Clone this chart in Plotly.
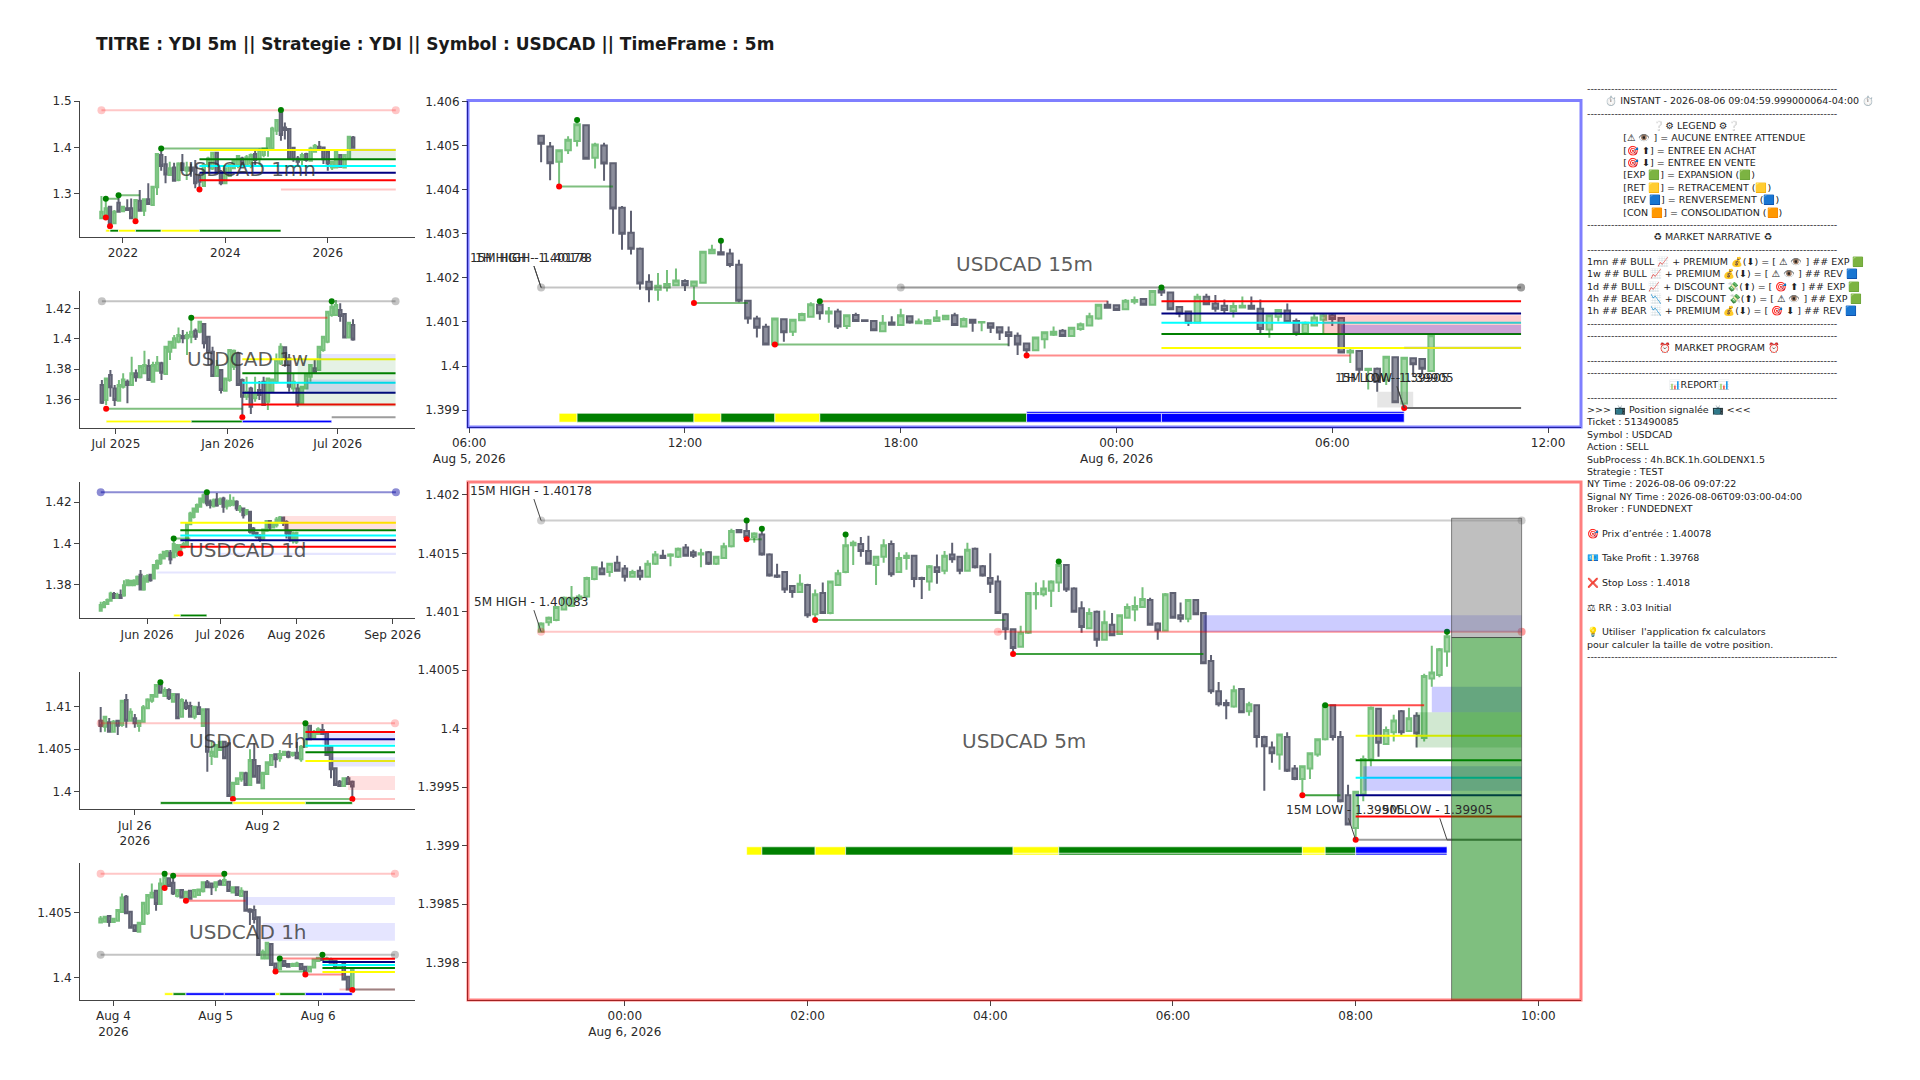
import pandas as pd
import plotly.graph_objects as go

# page size (the browser leaves an 8px body margin)
OFF = 8
W = 1904
H = 1064
FONT = "DejaVu Sans"

TITLE = "TITRE : YDI 5m || Strategie : YDI || Symbol : USDCAD || TimeFrame : 5m"

# ---- candles : open, high, low, close ----
OHLC_1MN = [
    (1.2468,1.2950,1.2461,1.2612),(1.2489,1.2892,1.2489,1.2684),(1.2720,1.2734,1.2288,1.2346),(1.2360,1.2648,1.2346,1.2612),
    (1.2806,1.2964,1.2605,1.2612),(1.2619,1.2734,1.2605,1.2720),(1.2684,1.2878,1.2633,1.2648),(1.2684,1.2899,1.2446,1.2468),
    (1.2468,1.2878,1.2403,1.2863),(1.2849,1.3079,1.2626,1.2633),(1.2633,1.2892,1.2518,1.2878),(1.2878,1.3223,1.2763,1.2777),
    (1.2756,1.3165,1.2741,1.3151),(1.3137,1.3870,1.2971,1.3856),(1.3834,1.3978,1.3496,1.3597),(1.3633,1.3813,1.3223,1.3417),
    (1.3403,1.3690,1.3388,1.3547),(1.3568,1.3669,1.3266,1.3280),(1.3295,1.3676,1.3266,1.3654),(1.3654,1.3856,1.3496,1.3511),
    (1.3496,1.3690,1.3295,1.3568),(1.3568,1.3654,1.3367,1.3496),(1.3568,1.3726,1.3115,1.3223),(1.3367,1.3439,1.3093,1.3259),
    (1.3165,1.3654,1.3151,1.3618),(1.3597,1.3798,1.3568,1.3762),(1.3546,1.3899,1.3511,1.3884),(1.3884,1.3899,1.3439,1.3453),
    (1.3475,1.3511,1.3180,1.3223),(1.3223,1.3568,1.3209,1.3547),(1.3381,1.3640,1.3367,1.3618),(1.3547,1.3741,1.3525,1.3726),
    (1.3618,1.3834,1.3547,1.3813),(1.3762,1.3798,1.3547,1.3568),(1.3597,1.3834,1.3582,1.3784),(1.3654,1.3870,1.3547,1.3834),
    (1.3856,1.3928,1.3582,1.3726),(1.3762,1.3978,1.3618,1.3942),(1.3834,1.3992,1.3784,1.3978),(1.3956,1.4215,1.3798,1.4194),
    (1.3978,1.4445,1.3956,1.4409),(1.4359,1.4603,1.4265,1.4589),(1.4790,1.4805,1.4143,1.4265),(1.4431,1.4539,1.4172,1.4373),
    (1.4395,1.4409,1.3741,1.3762),(1.3992,1.4014,1.3690,1.3741),(1.3762,1.3813,1.3597,1.3690),(1.3726,1.3884,1.3597,1.3834),
    (1.3856,1.3884,1.3690,1.3726),(1.3712,1.4014,1.3690,1.3978),(1.3906,1.4071,1.3884,1.4035),(1.4014,1.4136,1.3942,1.3956),
    (1.3999,1.4014,1.3640,1.3741),(1.3906,1.3942,1.3496,1.3654),(1.3568,1.3712,1.3511,1.3690),(1.3568,1.3956,1.3547,1.3928),
    (1.3834,1.3856,1.3568,1.3582),(1.3568,1.3856,1.3554,1.3834),(1.3762,1.4244,1.3741,1.4230),(1.4215,1.4244,1.3978,1.3992),
]
OHLC_1W = [
    (1.3696,1.3729,1.3571,1.3580),(1.3598,1.3744,1.3565,1.3740),(1.3762,1.3795,1.3620,1.3681),(1.3674,1.3696,1.3558,1.3598),
    (1.3593,1.3729,1.3587,1.3696),(1.3685,1.3773,1.3674,1.3733),(1.3718,1.3733,1.3576,1.3696),(1.3696,1.3882,1.3692,1.3773),
    (1.3773,1.3799,1.3718,1.3747),(1.3747,1.3828,1.3740,1.3821),(1.3773,1.3922,1.3768,1.3828),(1.3821,1.3865,1.3725,1.3729),
    (1.3718,1.3849,1.3714,1.3828),(1.3790,1.3887,1.3784,1.3843),(1.3839,1.3849,1.3729,1.3777),(1.3768,1.3952,1.3762,1.3948),
    (1.3915,1.3987,1.3860,1.3981),(1.3941,1.4025,1.3937,1.4003),(1.3981,1.4075,1.3970,1.4025),(1.4018,1.4058,1.3970,1.4003),
    (1.4003,1.4047,1.3893,1.4025),(1.4014,1.4139,1.3970,1.4047),(1.4053,1.4068,1.3992,1.4014),(1.4047,1.4119,1.4036,1.4112),
    (1.4097,1.4101,1.3937,1.3970),(1.4014,1.4018,1.3828,1.3915),(1.3915,1.3948,1.3751,1.3755),(1.3755,1.3860,1.3751,1.3817),
    (1.3795,1.3799,1.3641,1.3663),(1.3659,1.3744,1.3652,1.3740),(1.3729,1.3930,1.3718,1.3926),(1.3817,1.3930,1.3795,1.3922),
    (1.3904,1.3915,1.3692,1.3696),(1.3729,1.3740,1.3484,1.3620),(1.3620,1.3751,1.3598,1.3652),(1.3674,1.3685,1.3506,1.3554),
    (1.3609,1.3751,1.3587,1.3641),(1.3663,1.3722,1.3598,1.3630),(1.3718,1.3751,1.3560,1.3565),(1.3587,1.3744,1.3532,1.3740),
    (1.3652,1.3740,1.3646,1.3733),(1.3718,1.3904,1.3707,1.3860),(1.3839,1.3970,1.3828,1.3948),(1.3944,1.3948,1.3817,1.3878),
    (1.3871,1.3900,1.3652,1.3685),(1.3674,1.3773,1.3641,1.3718),(1.3674,1.3707,1.3554,1.3576),(1.3576,1.3690,1.3571,1.3685),
    (1.3674,1.3768,1.3668,1.3762),(1.3751,1.3832,1.3718,1.3828),(1.3806,1.3860,1.3773,1.3784),(1.3795,1.3952,1.3790,1.3948),
    (1.3926,1.4018,1.3915,1.4014),(1.3981,1.4182,1.3970,1.4178),(1.4156,1.4246,1.4145,1.4211),(1.4156,1.4255,1.4149,1.4222),
    (1.4189,1.4233,1.4112,1.4149),(1.4163,1.4167,1.4003,1.4009),(1.4009,1.4112,1.4003,1.4106),(1.4090,1.4128,1.3987,1.3996),
]
OHLC_1D = [
    (1.3676,1.3719,1.3671,1.3703),(1.3692,1.3722,1.3687,1.3714),(1.3708,1.3735,1.3703,1.3727),(1.3724,1.3767,1.3719,1.3759),
    (1.3756,1.3766,1.3733,1.3737),(1.3737,1.3762,1.3733,1.3751),(1.3751,1.3778,1.3732,1.3737),(1.3749,1.3823,1.3743,1.3799),
    (1.3799,1.3827,1.3796,1.3823),(1.3799,1.3823,1.3796,1.3820),(1.3799,1.3827,1.3796,1.3820),(1.3804,1.3846,1.3799,1.3839),
    (1.3849,1.3872,1.3775,1.3778),(1.3778,1.3847,1.3772,1.3831),(1.3815,1.3852,1.3810,1.3843),(1.3849,1.3852,1.3815,1.3823),
    (1.3831,1.3899,1.3827,1.3896),(1.3880,1.3923,1.3875,1.3916),(1.3904,1.3952,1.3896,1.3944),(1.3928,1.3965,1.3923,1.3960),
    (1.3939,1.3968,1.3933,1.3963),(1.3955,1.3968,1.3900,1.3923),(1.3933,1.4024,1.3929,1.3997),(1.3960,1.3997,1.3936,1.3992),
    (1.3968,1.3997,1.3952,1.3992),(1.3981,1.4008,1.3976,1.3997),(1.3987,1.4104,1.3984,1.4096),(1.4093,1.4153,1.4088,1.4144),
    (1.4128,1.4173,1.4120,1.4169),(1.4153,1.4193,1.4148,1.4185),(1.4177,1.4222,1.4173,1.4217),(1.4201,1.4241,1.4193,1.4233),
    (1.4241,1.4247,1.4180,1.4193),(1.4201,1.4212,1.4169,1.4185),(1.4180,1.4217,1.4173,1.4209),(1.4212,1.4244,1.4177,1.4183),
    (1.4193,1.4222,1.4185,1.4212),(1.4217,1.4225,1.4148,1.4177),(1.4180,1.4212,1.4164,1.4201),(1.4185,1.4238,1.4177,1.4206),
    (1.4188,1.4225,1.4180,1.4204),(1.4201,1.4209,1.4157,1.4169),(1.4161,1.4185,1.4148,1.4173),(1.4169,1.4173,1.4120,1.4136),
    (1.4144,1.4164,1.4136,1.4161),(1.4153,1.4157,1.4048,1.4056),(1.4072,1.4080,1.4040,1.4048),(1.4051,1.4056,1.4024,1.4032),
    (1.4035,1.4045,1.4008,1.4019),(1.4024,1.4072,1.4016,1.4067),(1.4061,1.4112,1.4056,1.4109),(1.4109,1.4112,1.4064,1.4077),
    (1.4077,1.4104,1.4072,1.4100),(1.4088,1.4128,1.4077,1.4116),(1.4104,1.4132,1.4096,1.4125),(1.4125,1.4128,1.4084,1.4100),
    (1.4104,1.4112,1.4024,1.4048),(1.4056,1.4064,1.4008,1.4024),(1.4013,1.4056,1.4000,1.4048),(1.4008,1.4056,1.3997,1.4051),
]
OHLC_4H = [
    (1.40838,1.41000,1.40699,1.40774),(1.40767,1.40893,1.40707,1.40885),(1.40818,1.40869,1.40699,1.40707),(1.40707,1.40846,1.40699,1.40826),
    (1.40838,1.40846,1.40668,1.40778),(1.40786,1.41083,1.40767,1.41075),(1.41083,1.41154,1.40755,1.40838),(1.40838,1.40984,1.40826,1.40944),
    (1.40865,1.40917,1.40755,1.40806),(1.40774,1.40846,1.40707,1.40838),(1.40826,1.41023,1.40814,1.40996),(1.40984,1.41102,1.40972,1.41090),
    (1.41075,1.41154,1.41051,1.41142),(1.41122,1.41268,1.41114,1.41260),(1.41260,1.41292,1.41162,1.41169),(1.41130,1.41233,1.41122,1.41201),
    (1.41201,1.41221,1.41083,1.41102),(1.41063,1.41162,1.41051,1.41154),(1.41150,1.41162,1.40853,1.40865),(1.40885,1.41102,1.40877,1.41083),
    (1.41051,1.41090,1.40964,1.40984),(1.41011,1.41063,1.40877,1.40885),(1.40885,1.41011,1.40853,1.41004),(1.40996,1.41063,1.40905,1.40917),
    (1.40774,1.40980,1.40767,1.40972),(1.40972,1.40980,1.40233,1.40470),(1.40419,1.40589,1.40312,1.40470),(1.40411,1.40561,1.40403,1.40549),
    (1.40490,1.40601,1.40482,1.40589),(1.40589,1.40601,1.40379,1.40391),(1.40569,1.40577,1.39937,1.39945),(1.39937,1.40111,1.39909,1.40103),
    (1.40087,1.40166,1.40075,1.40154),(1.40142,1.40233,1.40115,1.40221),(1.40214,1.40233,1.40063,1.40075),(1.40075,1.40498,1.40063,1.40372),
    (1.40372,1.40569,1.40166,1.40174),(1.40300,1.40312,1.40095,1.40103),(1.40036,1.40233,1.40028,1.40221),(1.40206,1.40352,1.40194,1.40344),
    (1.40312,1.40439,1.40300,1.40431),(1.40439,1.40451,1.40281,1.40379),(1.40391,1.40490,1.40352,1.40443),(1.40431,1.40482,1.40419,1.40470),
    (1.40462,1.40482,1.40391,1.40411),(1.40431,1.40470,1.40411,1.40458),(1.40458,1.40589,1.40379,1.40391),(1.40379,1.40549,1.40352,1.40529),
    (1.40529,1.40806,1.40522,1.40786),(1.40778,1.40786,1.40609,1.40616),(1.40628,1.40727,1.40616,1.40707),(1.40680,1.40759,1.40668,1.40735),
    (1.40727,1.40798,1.40668,1.40680),(1.40688,1.40695,1.40419,1.40431),(1.40529,1.40549,1.40154,1.40261),(1.40273,1.40285,1.40063,1.40075),
    (1.40115,1.40135,1.40056,1.40063),(1.40063,1.40166,1.40056,1.40154),(1.40154,1.40182,1.40075,1.40087),(1.40115,1.40127,1.39909,1.40056),
]
OHLC_1H = [
    (1.40427,1.40476,1.40419,1.40458),(1.40432,1.40479,1.40424,1.40471),(1.40476,1.40481,1.40393,1.40430),(1.40430,1.40461,1.40424,1.40455),
    (1.40440,1.40531,1.40435,1.40523),(1.40507,1.40652,1.40502,1.40621),(1.40626,1.40639,1.40492,1.40497),(1.40510,1.40515,1.40380,1.40386),
    (1.40404,1.40409,1.40352,1.40360),(1.40355,1.40432,1.40347,1.40424),(1.40414,1.40588,1.40409,1.40580),(1.40497,1.40647,1.40484,1.40639),
    (1.40621,1.40730,1.40613,1.40657),(1.40673,1.40678,1.40518,1.40569),(1.40569,1.40769,1.40562,1.40730),(1.40717,1.40805,1.40694,1.40782),
    (1.40769,1.40774,1.40704,1.40709),(1.40735,1.40802,1.40639,1.40652),(1.40632,1.40683,1.40621,1.40678),(1.40678,1.40683,1.40613,1.40621),
    (1.40606,1.40673,1.40595,1.40665),(1.40673,1.40678,1.40606,1.40611),(1.40626,1.40683,1.40619,1.40678),(1.40639,1.40691,1.40632,1.40683),
    (1.40668,1.40743,1.40660,1.40738),(1.40738,1.40756,1.40694,1.40699),(1.40730,1.40735,1.40639,1.40699),(1.40704,1.40743,1.40668,1.40738),
    (1.40746,1.40761,1.40714,1.40720),(1.40717,1.40805,1.40709,1.40756),(1.40743,1.40748,1.40663,1.40670),(1.40660,1.40704,1.40652,1.40699),
    (1.40699,1.40704,1.40632,1.40639),(1.40632,1.40699,1.40626,1.40673),(1.40665,1.40668,1.40512,1.40518),(1.40528,1.40536,1.40406,1.40510),
    (1.40523,1.40559,1.40419,1.40453),(1.40466,1.40471,1.40168,1.40173),(1.40147,1.40217,1.40139,1.40199),(1.40147,1.40277,1.40139,1.40269),
    (1.40259,1.40264,1.40088,1.40095),(1.40108,1.40114,1.40046,1.40064),(1.40062,1.40147,1.40057,1.40129),(1.40127,1.40134,1.40083,1.40088),
    (1.40103,1.40108,1.40077,1.40083),(1.40088,1.40114,1.40083,1.40103),(1.40088,1.40121,1.40083,1.40108),(1.40103,1.40108,1.40057,1.40062),
    (1.40083,1.40088,1.40023,1.40041),(1.40046,1.40088,1.40041,1.40083),(1.40077,1.40145,1.40070,1.40139),(1.40127,1.40160,1.40121,1.40152),
    (1.40147,1.40176,1.40127,1.40134),(1.40127,1.40160,1.40114,1.40147),(1.40142,1.40152,1.40108,1.40114),(1.40129,1.40134,1.40062,1.40077),
    (1.40077,1.40103,1.40067,1.40095),(1.40114,1.40121,1.39979,1.39984),(1.40005,1.40010,1.39901,1.39906),(1.39906,1.40072,1.39901,1.40067),
]
OHLC_15M = [
    (1.40522,1.40522,1.40462,1.40504),(1.40498,1.40508,1.40421,1.40460),(1.40463,1.40489,1.40407,1.40489),(1.40489,1.40521,1.40481,1.40513),
    (1.40510,1.40558,1.40498,1.40548),(1.40546,1.40546,1.40470,1.40470),(1.40472,1.40506,1.40448,1.40502),(1.40500,1.40506,1.40420,1.40459),
    (1.40460,1.40462,1.40300,1.40357),(1.40359,1.40363,1.40264,1.40300),(1.40302,1.40352,1.40253,1.40266),(1.40266,1.40269,1.40173,1.40187),
    (1.40191,1.40208,1.40145,1.40174),(1.40173,1.40211,1.40148,1.40182),(1.40178,1.40218,1.40169,1.40186),(1.40183,1.40221,1.40181,1.40194),
    (1.40193,1.40197,1.40170,1.40183),(1.40182,1.40192,1.40143,1.40192),(1.40189,1.40261,1.40189,1.40259),(1.40256,1.40275,1.40255,1.40264),
    (1.40258,1.40284,1.40253,1.40253),(1.40255,1.40266,1.40224,1.40229),(1.40230,1.40241,1.40145,1.40148),(1.40148,1.40149,1.40096,1.40108),
    (1.40108,1.40114,1.40065,1.40087),(1.40089,1.40096,1.40047,1.40049),(1.40049,1.40109,1.40049,1.40108),(1.40106,1.40108,1.40055,1.40077),
    (1.40078,1.40107,1.40068,1.40105),(1.40104,1.40121,1.40103,1.40118),(1.40112,1.40145,1.40112,1.40140),(1.40139,1.40146,1.40105,1.40120),
    (1.40119,1.40134,1.40098,1.40124),(1.40124,1.40130,1.40084,1.40090),(1.40091,1.40117,1.40084,1.40115),(1.40116,1.40121,1.40100,1.40102),
    (1.40104,1.40104,1.40102,1.40102),(1.40102,1.40103,1.40079,1.40081),(1.40079,1.40116,1.40078,1.40098),(1.40099,1.40113,1.40093,1.40094),
    (1.40093,1.40130,1.40092,1.40115),(1.40113,1.40115,1.40096,1.40099),(1.40097,1.40108,1.40096,1.40101),(1.40096,1.40107,1.40095,1.40104),
    (1.40102,1.40127,1.40101,1.40110),(1.40106,1.40115,1.40105,1.40114),(1.40115,1.40121,1.40091,1.40093),(1.40090,1.40110,1.40089,1.40107),
    (1.40105,1.40105,1.40078,1.40098),(1.40099,1.40102,1.40079,1.40100),(1.40097,1.40099,1.40075,1.40087),(1.40088,1.40090,1.40059,1.40076),
    (1.40077,1.40090,1.40045,1.40068),(1.40069,1.40076,1.40025,1.40049),(1.40051,1.40053,1.40024,1.40036),(1.40036,1.40067,1.40034,1.40065),
    (1.40061,1.40079,1.40040,1.40077),(1.40071,1.40090,1.40068,1.40078),(1.40080,1.40084,1.40068,1.40068),(1.40068,1.40088,1.40067,1.40087),
    (1.40084,1.40099,1.40080,1.40095),(1.40092,1.40121,1.40090,1.40113),(1.40108,1.40140,1.40105,1.40139),(1.40139,1.40148,1.40130,1.40132),
    (1.40138,1.40139,1.40126,1.40127),(1.40129,1.40152,1.40128,1.40148),(1.40146,1.40158,1.40140,1.40150),(1.40152,1.40153,1.40137,1.40139),
    (1.40139,1.40172,1.40138,1.40170),(1.40172,1.40178,1.40159,1.40167),(1.40167,1.40168,1.40128,1.40129),(1.40134,1.40134,1.40111,1.40119),
    (1.40124,1.40125,1.40091,1.40099),(1.40099,1.40164,1.40099,1.40157),(1.40157,1.40164,1.40139,1.40140),(1.40142,1.40161,1.40123,1.40130),
    (1.40137,1.40151,1.40120,1.40127),(1.40125,1.40145,1.40110,1.40136),(1.40133,1.40158,1.40132,1.40137),(1.40137,1.40158,1.40129,1.40130),
    (1.40130,1.40151,1.40075,1.40084),(1.40083,1.40117,1.40064,1.40115),(1.40112,1.40128,1.40101,1.40127),(1.40126,1.40142,1.40099,1.40100),
    (1.40102,1.40108,1.40069,1.40074),(1.40075,1.40101,1.40074,1.40098),(1.40092,1.40118,1.40091,1.40110),(1.40105,1.40118,1.40075,1.40115),
    (1.40115,1.40118,1.40091,1.40107),(1.40109,1.40111,1.40030,1.40031),(1.40031,1.40039,1.40007,1.40035),(1.40034,1.40035,1.39983,1.39992),
    (1.39991,1.39996,1.39947,1.39994),(1.39994,1.39997,1.39942,1.39964),(1.39968,1.40022,1.39957,1.40021),(1.40020,1.40021,1.39917,1.39918),
    (1.39915,1.40021,1.39905,1.40019),(1.40018,1.40019,1.39976,1.40004),(1.40016,1.40018,1.39983,1.39994),(1.39989,1.40072,1.39988,1.40070),
]
OHLC_5M = [
    (1.40083,1.40091,1.40082,1.40090),(1.40091,1.40096,1.40088,1.40095),(1.40093,1.40105,1.40092,1.40104),(1.40102,1.40113,1.40101,1.40112),
    (1.40105,1.40122,1.40104,1.40112),(1.40111,1.40115,1.40111,1.40113),(1.40113,1.40130,1.40112,1.40129),(1.40128,1.40139,1.40127,1.40138),
    (1.40137,1.40143,1.40132,1.40132),(1.40134,1.40142,1.40130,1.40141),(1.40142,1.40148,1.40135,1.40135),(1.40137,1.40140,1.40126,1.40130),
    (1.40130,1.40136,1.40130,1.40134),(1.40135,1.40139,1.40127,1.40130),(1.40130,1.40144,1.40130,1.40141),(1.40141,1.40152,1.40140,1.40149),
    (1.40148,1.40153,1.40146,1.40146),(1.40148,1.40150,1.40139,1.40149),(1.40147,1.40155,1.40146,1.40154),(1.40155,1.40158,1.40147,1.40148),
    (1.40151,1.40153,1.40146,1.40148),(1.40149,1.40154,1.40138,1.40150),(1.40151,1.40152,1.40140,1.40141),(1.40141,1.40148,1.40140,1.40147),
    (1.40146,1.40159,1.40146,1.40156),(1.40156,1.40171,1.40155,1.40169),(1.40170,1.40170,1.40168,1.40168),(1.40169,1.40178,1.40160,1.40164),
    (1.40164,1.40168,1.40159,1.40167),(1.40166,1.40171,1.40148,1.40149),(1.40149,1.40150,1.40130,1.40131),(1.40131,1.40141,1.40129,1.40130),
    (1.40134,1.40134,1.40116,1.40119),(1.40122,1.40123,1.40112,1.40117),(1.40117,1.40132,1.40116,1.40124),(1.40123,1.40124,1.40095,1.40097),
    (1.40098,1.40119,1.40093,1.40115),(1.40116,1.40125,1.40099,1.40099),(1.40099,1.40126,1.40098,1.40126),(1.40123,1.40136,1.40123,1.40133),
    (1.40134,1.40166,1.40133,1.40157),(1.40157,1.40161,1.40140,1.40159),(1.40158,1.40164,1.40147,1.40152),(1.40152,1.40165,1.40141,1.40141),
    (1.40140,1.40147,1.40123,1.40147),(1.40147,1.40162,1.40142,1.40157),(1.40158,1.40161,1.40130,1.40132),(1.40134,1.40151,1.40134,1.40146),
    (1.40146,1.40151,1.40136,1.40148),(1.40148,1.40148,1.40121,1.40128),(1.40129,1.40130,1.40111,1.40128),(1.40126,1.40140,1.40118,1.40139),
    (1.40138,1.40149,1.40124,1.40134),(1.40135,1.40152,1.40132,1.40148),(1.40149,1.40159,1.40142,1.40145),(1.40147,1.40148,1.40132,1.40135),
    (1.40135,1.40159,1.40135,1.40153),(1.40154,1.40155,1.40137,1.40138),(1.40139,1.40140,1.40130,1.40131),(1.40129,1.40150,1.40116,1.40124),
    (1.40126,1.40131,1.40099,1.40099),(1.40098,1.40099,1.40076,1.40085),(1.40085,1.40086,1.40064,1.40069),(1.40070,1.40088,1.40070,1.40082),
    (1.40082,1.40117,1.40081,1.40116),(1.40115,1.40125,1.40102,1.40116),(1.40115,1.40127,1.40113,1.40120),(1.40118,1.40127,1.40104,1.40126),
    (1.40125,1.40143,1.40117,1.40140),(1.40140,1.40140,1.40117,1.40119),(1.40120,1.40121,1.40100,1.40100),(1.40103,1.40109,1.40082,1.40087),
    (1.40086,1.40103,1.40085,1.40099),(1.40100,1.40101,1.40070,1.40076),(1.40076,1.40101,1.40076,1.40091),(1.40089,1.40099,1.40079,1.40080),
    (1.40081,1.40098,1.40081,1.40097),(1.40095,1.40107,1.40094,1.40104),(1.40102,1.40113,1.40092,1.40105),(1.40104,1.40121,1.40104,1.40111),
    (1.40110,1.40112,1.40089,1.40089),(1.40090,1.40091,1.40076,1.40084),(1.40084,1.40116,1.40084,1.40115),(1.40116,1.40116,1.40095,1.40095),
    (1.40097,1.40108,1.40091,1.40094),(1.40094,1.40111,1.40091,1.40110),(1.40110,1.40111,1.40097,1.40098),(1.40099,1.40099,1.40056,1.40056),
    (1.40058,1.40063,1.40030,1.40032),(1.40032,1.40040,1.40019,1.40021),(1.40022,1.40025,1.40008,1.40020),(1.40019,1.40037,1.40018,1.40033),
    (1.40034,1.40034,1.40014,1.40014),(1.40015,1.40023,1.40011,1.40021),(1.40020,1.40021,1.39984,1.39993),(1.39993,1.39994,1.39947,1.39985),
    (1.39984,1.39989,1.39971,1.39979),(1.39978,1.39995,1.39965,1.39995),(1.39993,1.39997,1.39963,1.39964),(1.39966,1.39969,1.39956,1.39957),
    (1.39957,1.39968,1.39943,1.39968),(1.39966,1.39979,1.39957,1.39979),(1.39978,1.39991,1.39976,1.39991),(1.39991,1.40020,1.39990,1.40020),
    (1.40020,1.40020,1.39990,1.39993),(1.39993,1.39998,1.39937,1.39938),(1.39943,1.39952,1.39918,1.39918),(1.39915,1.39947,1.39905,1.39946),
    (1.39944,1.39977,1.39938,1.39974),(1.39974,1.40019,1.39968,1.40018),(1.40017,1.40018,1.39976,1.39988),(1.39987,1.40002,1.39987,1.39999),
    (1.39997,1.40012,1.39989,1.40007),(1.40015,1.40016,1.39994,1.39997),(1.39998,1.40018,1.39998,1.40009),(1.40011,1.40014,1.39984,1.39996),
    (1.39992,1.40047,1.39989,1.40045),(1.40043,1.40071,1.40036,1.40048),(1.40046,1.40069,1.40044,1.40068),(1.40066,1.40083,1.40053,1.40079),
]

# ---- candle times ----
TIMES_1MN = pd.date_range("2021-08-01", periods=60, freq="MS")
TIMES_1W = pd.date_range("2025-06-08", periods=60, freq="7D")
TIMES_1D = pd.bdate_range("2026-05-12", periods=60)
TIMES_4H = (list(pd.date_range("2026-07-23 09:00", periods=8, freq="4h"))
            + list(pd.date_range("2026-07-26 17:00", periods=30, freq="4h"))
            + list(pd.date_range("2026-08-02 17:00", periods=22, freq="4h")))
TIMES_1H = pd.date_range("2026-08-03 21:00", periods=60, freq="1h")
TIMES_15M = pd.date_range("2026-08-05 08:00", periods=100, freq="15min")
TIMES_5M = pd.date_range("2026-08-05 23:05", periods=120, freq="5min")

# ---- retracement levels : start, end, red, navy, cyan, green, yellow ----
FIB_1MN = ("2023-07-01", "2027-05-01", 1.3288, 1.3453, 1.3597, 1.3741, 1.3942)
FIB_1W = ("2026-01-25", "2026-10-04", 1.3569, 1.3646, 1.3711, 1.3773, 1.3865)
FIB_1D = ("2026-06-15", "2026-09-02", 1.3984, 1.4015, 1.4039, 1.4064, 1.4100)
FIB_4H = ("2026-08-04 09:00", "2026-08-07 21:00", 1.40703, 1.40616, 1.40541, 1.40462, 1.40360)
FIB_1H = ("2026-08-06 01:00", "2026-08-06 18:00", 1.40145, 1.40119, 1.40095, 1.40072, 1.40041)
FIB_15M = ("2026-08-06 01:15", "2026-08-06 11:15", 1.40147, 1.40119, 1.40098, 1.40073, 1.40041)
FIB_5M = ("2026-08-06 08:00", "2026-08-06 09:49", 1.39925, 1.39943, 1.39958, 1.39973, 1.39994)

# ---- swing points ----
HIGHS_1MN = [("2021-09-01", 1.2892), ("2021-12-01", 1.2964), ("2022-10-01", 1.3978), ("2025-02-01", 1.4805)]
LOWS_1MN = [("2021-09-01", 1.2489), ("2021-10-01", 1.2295), ("2022-04-01", 1.2403), ("2023-07-01", 1.3093)]
HIGHS_1W = [("2025-11-02", 1.4139), ("2026-06-21", 1.4246)]
LOWS_1W = [("2025-06-15", 1.3541), ("2026-01-25", 1.3484)]
HIGHS_1D = [("2026-06-11", 1.4024), ("2026-06-25", 1.4247)]
LOWS_1D = [("2026-06-15", 1.3952)]
HIGHS_4H = [("2026-07-27 17:00", 1.41292), ("2026-08-04 09:00", 1.40806)]
LOWS_4H = [("2026-07-30 13:00", 1.39909), ("2026-08-06 05:00", 1.39909)]
HIGHS_1H = [("2026-08-04 12:00", 1.40805), ("2026-08-04 14:00", 1.40790), ("2026-08-05 02:00", 1.40805),
            ("2026-08-05 15:00", 1.40147), ("2026-08-06 01:00", 1.40176)]
LOWS_1H = [("2026-08-04 12:00", 1.40694), ("2026-08-04 17:00", 1.40595), ("2026-08-05 14:00", 1.40046),
           ("2026-08-05 21:00", 1.40023), ("2026-08-06 08:00", 1.39901)]
HIGHS_15M = [("2026-08-05 09:00", 1.40558), ("2026-08-05 13:00", 1.40284), ("2026-08-05 15:45", 1.40147),
             ("2026-08-06 01:15", 1.40178)]
LOWS_15M = [("2026-08-05 08:30", 1.40407), ("2026-08-05 12:15", 1.40143), ("2026-08-05 14:30", 1.40049),
            ("2026-08-05 21:30", 1.40024), ("2026-08-06 08:00", 1.39905)]
HIGHS_5M = [("2026-08-06 01:20", 1.40178), ("2026-08-06 01:30", 1.40171), ("2026-08-06 02:25", 1.40166),
            ("2026-08-06 04:45", 1.40143), ("2026-08-06 07:40", 1.40020), ("2026-08-06 09:00", 1.40083)]
LOWS_5M = [("2026-08-06 01:20", 1.40162), ("2026-08-06 02:05", 1.40093), ("2026-08-06 04:15", 1.40064),
           ("2026-08-06 07:25", 1.39943), ("2026-08-06 08:00", 1.39905)]

# ---- horizontal levels : start, end, price, kind ----
LINES_1MN = [
    ("2021-08-01", "2027-05-01", 1.4800, "pink"),
    ("2021-09-01", "2021-12-01", 1.2892, "green"),
    ("2021-12-01", "2022-05-01", 1.2964, "green"),
    ("2022-10-01", "2024-11-01", 1.3978, "green"),
    ("2025-02-01", "2027-05-01", 1.3093, "pink_plain"),
]
LINES_1W = [
    ("2025-06-08", "2026-10-04", 1.4246, "gray"),
    ("2025-06-15", "2026-01-25", 1.3541, "green"),
    ("2025-11-02", "2026-06-14", 1.4139, "red"),
    ("2026-06-21", "2026-10-04", 1.3484, "gray_plain"),
]
LINES_1D = [
    ("2026-05-12", "2026-09-02", 1.4247, "blue"),
    ("2026-06-11", "2026-06-18", 1.4024, "green"),
]
LINES_4H = [
    ("2026-07-23 09:00", "2026-08-07 21:00", 1.40806, "pink"),
    ("2026-07-30 13:00", "2026-08-06 05:00", 1.39909, "green"),
    ("2026-08-06 05:00", "2026-08-07 21:00", 1.39909, "pink_plain"),
]
LINES_1H = [
    ("2026-08-03 21:00", "2026-08-06 18:00", 1.40805, "pink"),
    ("2026-08-03 21:00", "2026-08-06 18:00", 1.40176, "gray"),
    ("2026-08-04 14:00", "2026-08-05 02:00", 1.40790, "red"),
    ("2026-08-04 17:00", "2026-08-05 07:00", 1.40595, "red"),
    ("2026-08-05 15:00", "2026-08-06 01:00", 1.40147, "red"),
    ("2026-08-05 14:00", "2026-08-05 21:00", 1.40046, "green"),
    ("2026-08-05 21:00", "2026-08-06 06:00", 1.40023, "red"),
    ("2026-08-06 05:00", "2026-08-06 18:00", 1.39905, "pink_plain"),
    ("2026-08-06 08:00", "2026-08-06 18:00", 1.39905, "gray_plain"),
]
LINES_15M = [
    ("2026-08-05 08:00", "2026-08-06 11:15", 1.40178, "gray"),
    ("2026-08-05 18:00", "2026-08-06 11:15", 1.40178, "gray"),
    ("2026-08-05 08:30", "2026-08-05 10:00", 1.40407, "green"),
    ("2026-08-05 12:15", "2026-08-05 13:45", 1.40143, "green"),
    ("2026-08-05 14:30", "2026-08-05 21:00", 1.40049, "green"),
    ("2026-08-05 15:45", "2026-08-05 23:45", 1.40147, "red"),
    ("2026-08-05 21:30", "2026-08-06 06:30", 1.40024, "red"),
    ("2026-08-06 08:00", "2026-08-06 11:15", 1.39905, "gray_plain"),
    ("2026-08-06 08:00", "2026-08-06 11:15", 1.39905, "gray_plain"),
]
LINES_5M = [
    ("2026-08-05 23:05", "2026-08-06 09:49", 1.40178, "gray_light"),
    ("2026-08-05 23:05", "2026-08-06 09:49", 1.40083, "pink"),
    ("2026-08-06 04:05", "2026-08-06 09:49", 1.40083, "pink"),
    ("2026-08-06 01:20", "2026-08-06 01:30", 1.40162, "green"),
    ("2026-08-06 02:05", "2026-08-06 04:10", 1.40093, "green"),
    ("2026-08-06 04:15", "2026-08-06 06:20", 1.40064, "green_dark"),
    ("2026-08-06 07:25", "2026-08-06 07:50", 1.39943, "green_dark"),
    ("2026-08-06 07:40", "2026-08-06 08:45", 1.40020, "red_strong"),
    ("2026-08-06 08:00", "2026-08-06 09:49", 1.39905, "gray_plain"),
    ("2026-08-06 09:00", "2026-08-06 09:49", 1.39905, "gray_plain"),
]

# ---- zones : start, end, low, high, kind ----
BANDS_1MN = [("2026-06-01", "2027-05-01", 1.3906, 1.3978, "blue"), ("2026-06-01", "2027-05-01", 1.3741, 1.3906, "green")]
BANDS_1W = [("2026-05-31", "2026-10-04", 1.3865, 1.3900, "blue"), ("2026-04-26", "2026-10-04", 1.3554, 1.3865, "green"),
            ("2026-05-10", "2026-10-04", 1.3646, 1.3733, "blue")]
BANDS_1D = [("2026-07-28", "2026-09-02", 1.4067, 1.4132, "pink"), ("2026-07-01", "2026-09-02", 1.3944, 1.3955, "blue"),
            ("2026-06-04", "2026-09-02", 1.3855, 1.3865, "blue")]
BANDS_4H = [("2026-08-05 01:00", "2026-08-07 21:00", 1.40561, 1.40688, "blue"),
            ("2026-08-05 09:00", "2026-08-07 21:00", 1.40293, 1.40403, "blue"),
            ("2026-08-06 01:00", "2026-08-07 21:00", 1.40016, 1.40182, "pink")]
BANDS_1H = [("2026-08-05 07:00", "2026-08-06 18:00", 1.40562, 1.40624, "blue"),
            ("2026-08-05 11:00", "2026-08-06 18:00", 1.40285, 1.40422, "blue")]
BANDS_15M = [("2026-08-06 05:45", "2026-08-06 11:15", 1.40074, 1.40115, "pink_strong"),
             ("2026-08-06 06:15", "2026-08-06 11:15", 1.40074, 1.40093, "blue_strong"),
             ("2026-08-06 07:15", "2026-08-06 08:15", 1.39906, 1.39942, "gray"),
             ("2026-08-06 08:00", "2026-08-06 11:15", 1.40039, 1.40045, "gray")]
BANDS_5M = [("2026-08-06 06:20", "2026-08-06 09:49", 1.40083, 1.40097, "blue_strong"),
            ("2026-08-06 08:50", "2026-08-06 09:49", 1.40014, 1.40036, "blue_strong"),
            ("2026-08-06 08:40", "2026-08-06 09:49", 1.39984, 1.40014, "green_strong"),
            ("2026-08-06 08:05", "2026-08-06 09:49", 1.39947, 1.39968, "blue_strong")]

# ---- market program strips : start, end, kind ----
PROGRAM_1MN = [("2021-09-01", "2021-10-01", "yellow"), ("2021-10-01", "2021-12-01", "green"), ("2021-12-01", "2022-04-01", "yellow"),
               ("2022-04-01", "2022-10-01", "green"), ("2022-10-01", "2023-07-01", "yellow"), ("2023-07-01", "2025-02-01", "green")]
PROGRAM_1W = [("2025-06-15", "2025-11-02", "yellow"), ("2025-11-02", "2026-01-25", "green"), ("2026-01-25", "2026-06-21", "blue")]
PROGRAM_1D = [("2026-06-11", "2026-06-15", "yellow"), ("2026-06-15", "2026-06-25", "green")]
PROGRAM_4H = [("2026-07-27 17:00", "2026-07-30 13:00", "green"), ("2026-07-30 13:00", "2026-08-04 09:00", "yellow"),
              ("2026-08-04 09:00", "2026-08-06 05:00", "green")]
PROGRAM_1H = [("2026-08-04 12:00", "2026-08-04 14:00", "yellow"), ("2026-08-04 14:00", "2026-08-04 17:00", "green"),
              ("2026-08-04 17:00", "2026-08-05 02:00", "blue"), ("2026-08-05 02:00", "2026-08-05 14:00", "blue"),
              ("2026-08-05 14:00", "2026-08-05 15:00", "yellow"), ("2026-08-05 15:00", "2026-08-05 21:00", "green"),
              ("2026-08-05 21:00", "2026-08-06 01:00", "blue"), ("2026-08-06 01:00", "2026-08-06 08:00", "blue")]
PROGRAM_15M = [("2026-08-05 08:30", "2026-08-05 09:00", "yellow"), ("2026-08-05 09:00", "2026-08-05 12:15", "green"),
               ("2026-08-05 12:15", "2026-08-05 13:00", "yellow"), ("2026-08-05 13:00", "2026-08-05 14:30", "green"),
               ("2026-08-05 14:30", "2026-08-05 15:45", "yellow"), ("2026-08-05 15:45", "2026-08-05 21:30", "green"),
               ("2026-08-05 21:30", "2026-08-06 01:15", "blue"), ("2026-08-06 01:15", "2026-08-06 08:00", "blue")]
PROGRAM_5M = [("2026-08-06 01:20", "2026-08-06 01:30", "yellow"), ("2026-08-06 01:30", "2026-08-06 02:05", "green"),
              ("2026-08-06 02:05", "2026-08-06 02:25", "yellow"), ("2026-08-06 02:25", "2026-08-06 04:15", "green"),
              ("2026-08-06 04:15", "2026-08-06 04:45", "yellow"), ("2026-08-06 04:45", "2026-08-06 07:25", "green"),
              ("2026-08-06 07:25", "2026-08-06 07:40", "yellow"), ("2026-08-06 07:40", "2026-08-06 08:00", "green"),
              ("2026-08-06 08:00", "2026-08-06 09:00", "blue")]

# strip height on each price scale
PROGRAM_Y_1MN = (1.2175, 1.2229)
PROGRAM_Y_1W = (1.3449, 1.3465)
PROGRAM_Y_1D = (1.3647, 1.3659)
PROGRAM_Y_4H = (1.39847, 1.39877)
PROGRAM_Y_1H = (1.39860, 1.39880)
PROGRAM_Y_15M = (1.39873, 1.39893)
PROGRAM_Y_5M = (1.39892, 1.39899)

# second strip seen above the blue run on 15m, white split under the 5m run
EXTRA_STRIP_15M = ("2026-08-05 21:30", "2026-08-06 08:00", 1.39893, 1.39897)
SPLIT_5M = ("2026-08-06 04:15", "2026-08-06 09:00", 1.398935)

# labelled levels : time, price, text
NOTES_15M = [("2026-08-05 08:00", 1.40178, "15M HIGH - 1.40178"), ("2026-08-05 08:00", 1.40178, "1H HIGH - 1.40178"),
             ("2026-08-06 08:00", 1.39905, "15M LOW - 1.39905"), ("2026-08-06 08:00", 1.39905, "1H LOW - 1.39905")]
NOTES_5M = [("2026-08-05 23:05", 1.40178, "15M HIGH - 1.40178"), ("2026-08-05 23:05", 1.40083, "5M HIGH - 1.40083"),
            ("2026-08-06 08:00", 1.39905, "15M LOW - 1.39905"), ("2026-08-06 09:00", 1.39905, "5M LOW - 1.39905")]

# trade box on the 5m chart
TRADE_START = "2026-08-06 09:03"
TRADE_END = "2026-08-06 09:49"
ENTRY = 1.40078
TAKE_PROFIT = 1.39768
STOP_LOSS = 1.4018

DASHES = "-" * 73
REPORT_LINES = [
    DASHES,
    "      ⏱️ INSTANT - 2026-08-06 09:04:59.999000064-04:00 ⏱️",
    DASHES,
    " " * 22 + "❔⚙ LEGEND ⚙❔",
    " " * 12 + "[⚠ 👁️ ] = AUCUNE ENTREE ATTENDUE",
    " " * 12 + "[🎯 ⬆] = ENTREE EN ACHAT",
    " " * 12 + "[🎯 ⬇] = ENTREE EN VENTE",
    " " * 12 + "[EXP 🟩] = EXPANSION (🟩)",
    " " * 12 + "[RET 🟨] = RETRACEMENT (🟨)",
    " " * 12 + "[REV 🟦] = RENVERSEMENT (🟦)",
    " " * 12 + "[CON 🟧] = CONSOLIDATION (🟧)",
    DASHES,
    " " * 22 + "♻ MARKET NARRATIVE ♻",
    DASHES,
    "1mn ## BULL 📈 + PREMIUM 💰(⬇) = [ ⚠ 👁️ ] ## EXP 🟩",
    "1w ## BULL 📈 + PREMIUM 💰(⬇) = [ ⚠ 👁️ ] ## REV 🟦",
    "1d ## BULL 📈 + DISCOUNT 💸(⬆) = [ 🎯 ⬆ ] ## EXP 🟩",
    "4h ## BEAR 📉 + DISCOUNT 💸(⬆) = [ ⚠ 👁️ ] ## EXP 🟩",
    "1h ## BEAR 📉 + PREMIUM 💰(⬇) = [ 🎯 ⬇ ] ## REV 🟦",
    DASHES,
    DASHES,
    " " * 24 + "⏰ MARKET PROGRAM ⏰",
    DASHES,
    DASHES,
    " " * 27 + "📊REPORT📊",
    DASHES,
    ">>> 📺 Position signalée 📺 <<<",
    "Ticket : 513490085",
    "Symbol : USDCAD",
    "Action : SELL",
    "SubProcess : 4h.BCK.1h.GOLDENX1.5",
    "Strategie : TEST",
    "NY Time : 2026-08-06 09:07:22",
    "Signal NY Time : 2026-08-06T09:03:00-04:00",
    "Broker : FUNDEDNEXT",
    "",
    "🎯 Prix d’entrée : 1.40078",
    "",
    "💶 Take Profit : 1.39768",
    "",
    "❌ Stop Loss : 1.4018",
    "",
    "⚖ RR : 3.03 Initial",
    "",
    "💡 Utiliser  l'application fx calculators",
    "pour calculer la taille de votre position.",
    DASHES,
]

# ---- styles ----
FIB_COLORS = ["red", "navy", "cyan", "green", "yellow"]
LINE_STYLES = {
    "green": dict(color="rgba(0,128,0,0.5)", marker=False),
    "green_dark": dict(color="rgba(0,128,0,0.75)", marker=False),
    "red": dict(color="rgba(255,0,0,0.45)", marker=False),
    "red_strong": dict(color="rgba(255,0,0,0.7)", marker=False),
    "pink": dict(color="rgba(255,0,0,0.22)", marker=True),
    "pink_plain": dict(color="rgba(255,0,0,0.22)", marker=False),
    "gray": dict(color="rgba(60,60,60,0.3)", marker=True),
    "gray_light": dict(color="rgba(60,60,60,0.25)", marker=True),
    "gray_plain": dict(color="rgba(60,60,60,0.5)", marker=False),
    "blue": dict(color="rgba(0,0,160,0.45)", marker=True),
}
BAND_COLORS = {
    "blue": "rgba(0,0,255,0.1)",
    "blue_strong": "rgba(0,0,255,0.2)",
    "pink": "rgba(255,0,0,0.12)",
    "pink_strong": "rgba(255,0,0,0.2)",
    "green": "rgba(0,128,0,0.1)",
    "green_strong": "rgba(0,128,0,0.18)",
    "gray": "rgba(128,128,128,0.2)",
}
PROGRAM_COLORS = {"yellow": "#ffff00", "green": "#008000", "blue": "#0000ff"}


def xd(px):
    return (px - OFF) / W


def yd(py):
    return 1 - (py - OFF) / H


def suffix(n):
    return "" if n == 1 else str(n)


fig = go.Figure()
shapes = []
annotations = []


def draw_panel(n, label, times, ohlc, fib, highs, lows, lines, bands, program, program_y):
    s = suffix(n)
    xname, yname = "x" + s, "y" + s
    fig.add_trace(go.Candlestick(
        x=list(times),
        open=[c[0] for c in ohlc],
        high=[c[1] for c in ohlc],
        low=[c[2] for c in ohlc],
        close=[c[3] for c in ohlc],
        xaxis=xname, yaxis=yname,
        increasing=dict(line=dict(color="#76c07c", width=2), fillcolor="#a4d6a6"),
        decreasing=dict(line=dict(color="#5f6172", width=2), fillcolor="#8c8e9c"),
    ))
    for start, end, price, kind in lines:
        st = LINE_STYLES[kind]
        fig.add_trace(go.Scatter(
            x=[start, end], y=[price, price], xaxis=xname, yaxis=yname,
            mode="lines+markers" if st["marker"] else "lines",
            line=dict(color=st["color"], width=2),
            marker=dict(color=st["color"], size=8),
        ))
    for price, color in zip(fib[2:], FIB_COLORS):
        fig.add_trace(go.Scatter(
            x=[fib[0], fib[1]], y=[price, price], xaxis=xname, yaxis=yname,
            mode="lines", line=dict(color=color, width=2),
        ))
    for pts, color in ((highs, "green"), (lows, "red")):
        fig.add_trace(go.Scatter(
            x=[p[0] for p in pts], y=[p[1] for p in pts], xaxis=xname, yaxis=yname,
            mode="markers", marker=dict(color=color, size=6),
        ))
    for start, end, low, high, kind in bands:
        shapes.append(dict(type="rect", xref=xname, yref=yname, x0=start, x1=end, y0=low, y1=high,
                           fillcolor=BAND_COLORS[kind], line=dict(width=0)))
    for start, end, kind in program:
        shapes.append(dict(type="rect", xref=xname, yref=yname, x0=start, x1=end,
                           y0=program_y[0], y1=program_y[1],
                           fillcolor=PROGRAM_COLORS[kind], line=dict(color="white", width=0.6)))
    annotations.append(dict(text=label, xref=xname + " domain", yref=yname + " domain", x=0.5, y=0.5,
                            showarrow=False, font=dict(family=FONT, size=20, color="rgba(50,50,50,0.8)")))


def set_axes(n, left, right, top, bottom, xrange, yrange, dtick, tick0, ydtick, ytick0, breaks=None):
    s = suffix(n)
    common = dict(showgrid=False, zeroline=False, showline=True, linecolor="#444", linewidth=1,
                  ticks="outside", ticklen=5, tickcolor="#444", automargin=False,
                  tickfont=dict(family=FONT, size=12, color="#2a2a2a"))
    fig.update_layout(**{
        "xaxis" + s: dict(common, domain=[xd(left), xd(right)], anchor="y" + s, type="date", range=xrange,
                          dtick=dtick, tick0=tick0, rangeslider=dict(visible=False), rangebreaks=breaks or []),
        "yaxis" + s: dict(common, domain=[yd(bottom), yd(top)], anchor="x" + s, range=yrange,
                          dtick=ydtick, tick0=ytick0),
    })


draw_panel(1, "USDCAD 1mn", TIMES_1MN, OHLC_1MN, FIB_1MN, HIGHS_1MN, LOWS_1MN, LINES_1MN, BANDS_1MN, PROGRAM_1MN, PROGRAM_Y_1MN)
draw_panel(2, "USDCAD 1w", TIMES_1W, OHLC_1W, FIB_1W, HIGHS_1W, LOWS_1W, LINES_1W, BANDS_1W, PROGRAM_1W, PROGRAM_Y_1W)
draw_panel(3, "USDCAD 1d", TIMES_1D, OHLC_1D, FIB_1D, HIGHS_1D, LOWS_1D, LINES_1D, BANDS_1D, PROGRAM_1D, PROGRAM_Y_1D)
draw_panel(4, "USDCAD 4h", TIMES_4H, OHLC_4H, FIB_4H, HIGHS_4H, LOWS_4H, LINES_4H, BANDS_4H, PROGRAM_4H, PROGRAM_Y_4H)
draw_panel(5, "USDCAD 1h", TIMES_1H, OHLC_1H, FIB_1H, HIGHS_1H, LOWS_1H, LINES_1H, BANDS_1H, PROGRAM_1H, PROGRAM_Y_1H)
draw_panel(6, "USDCAD 15m", TIMES_15M, OHLC_15M, FIB_15M, HIGHS_15M, LOWS_15M, LINES_15M, BANDS_15M, PROGRAM_15M, PROGRAM_Y_15M)
draw_panel(7, "USDCAD 5m", TIMES_5M, OHLC_5M, FIB_5M, HIGHS_5M, LOWS_5M, LINES_5M, BANDS_5M, PROGRAM_5M, PROGRAM_Y_5M)

shapes.append(dict(type="rect", xref="x6", yref="y6", x0=EXTRA_STRIP_15M[0], x1=EXTRA_STRIP_15M[1],
                   y0=EXTRA_STRIP_15M[2], y1=EXTRA_STRIP_15M[3],
                   fillcolor=PROGRAM_COLORS["blue"], line=dict(color="white", width=0.6)))
shapes.append(dict(type="line", xref="x7", yref="y7", x0=SPLIT_5M[0], x1=SPLIT_5M[1], y0=SPLIT_5M[2], y1=SPLIT_5M[2],
                   line=dict(color="rgba(255,255,255,0.8)", width=1)))

# weekends are only skipped where there is data
WEEKENDS_1D = [dict(bounds=[d.strftime("%Y-%m-%d"), (d + pd.Timedelta(days=2)).strftime("%Y-%m-%d")])
               for d in pd.date_range("2026-05-16", "2026-08-01", freq="7D")]
WEEKENDS_4H = [dict(bounds=["2026-07-24 17:00", "2026-07-26 17:00"]),
               dict(bounds=["2026-07-31 17:00", "2026-08-02 17:00"])]

set_axes(1, 80, 415, 100.7, 236.7, ["2021-03-01", "2027-09-15"], [1.2072, 1.5007], "M24", "2022-01-01", 0.1, 1.3)
set_axes(2, 80, 415, 290.7, 427.7, ["2025-05-03", "2026-11-05"], [1.3416, 1.4316], "M6", "2025-01-01", 0.02, 1.36)
set_axes(3, 80, 415, 481.7, 618.3, ["2026-05-05 18:00", "2026-09-07 18:00"], [1.3639, 1.4298], "M1", "2026-01-01", 0.02, 1.38, WEEKENDS_1D)
set_axes(4, 80, 415, 672.3, 809.3, ["2026-07-22 13:36", "2026-08-08 15:45"], [1.39787, 1.41411], 604800000, "2026-07-26", 0.005, 1.4, WEEKENDS_4H)
set_axes(5, 80, 415, 863.3, 1000, ["2026-08-03 16:10", "2026-08-06 22:42"], [1.39824, 1.40886], 86400000, "2026-08-04", 0.005, 1.4)
set_axes(6, 468, 1581, 100.5, 427, ["2026-08-05 05:58", "2026-08-06 12:55"], [1.39862, 1.40602], 21600000, "2026-08-05", 0.001, 1.399)
set_axes(7, 468, 1581, 482, 1000, ["2026-08-05 22:17", "2026-08-06 10:28"], [1.39768, 1.40211], 7200000, "2026-08-06", 0.0005, 1.398)

# trade box
shapes.append(dict(type="rect", xref="x7", yref="y7", x0=TRADE_START, x1=TRADE_END, y0=ENTRY, y1=STOP_LOSS,
                   fillcolor="rgba(128,128,128,0.5)", line=dict(color="rgba(60,60,60,0.6)", width=1)))
shapes.append(dict(type="rect", xref="x7", yref="y7", x0=TRADE_START, x1=TRADE_END, y0=TAKE_PROFIT, y1=ENTRY,
                   fillcolor="rgba(0,128,0,0.5)", line=dict(color="rgba(60,60,60,0.6)", width=1)))

# frames round the two large charts
shapes.append(dict(type="rect", xref="paper", yref="paper", x0=xd(468), x1=xd(1581), y0=yd(427), y1=yd(100.5),
                   line=dict(color="rgba(0,0,255,0.5)", width=3)))
shapes.append(dict(type="rect", xref="paper", yref="paper", x0=xd(468), x1=xd(1581), y0=yd(1000), y1=yd(482),
                   line=dict(color="rgba(255,0,0,0.5)", width=3)))

for n, notes in ((6, NOTES_15M), (7, NOTES_5M)):
    for when, price, text in notes:
        annotations.append(dict(x=when, y=price, xref="x" + str(n), yref="y" + str(n), text=text,
                                showarrow=True, arrowhead=0, arrowwidth=1, arrowcolor="#444", ax=-10, ay=-30,
                                font=dict(family=FONT, size=12, color="#2a2a2a")))

annotations.append(dict(text="<br>".join(REPORT_LINES), xref="paper", yref="paper", x=xd(1584.3), y=yd(80.6),
                        xanchor="left", yanchor="top", align="left", showarrow=False,
                        font=dict(family=FONT, size=9.5, color="#222222")))

fig.update_layout(
    width=W, height=H,
    margin=dict(l=0, r=0, t=0, b=0, autoexpand=False),
    showlegend=False,
    boxgap=0.12,
    paper_bgcolor="white", plot_bgcolor="white",
    font=dict(family=FONT),
    title=dict(text="<b>" + TITLE + "</b>", x=xd(96), xanchor="left", y=yd(44), yanchor="middle",
               automargin=False, font=dict(family=FONT, size=17, color="#1a1a1a")),
    shapes=shapes,
    annotations=annotations,
)

fig.write_html("out.html")
